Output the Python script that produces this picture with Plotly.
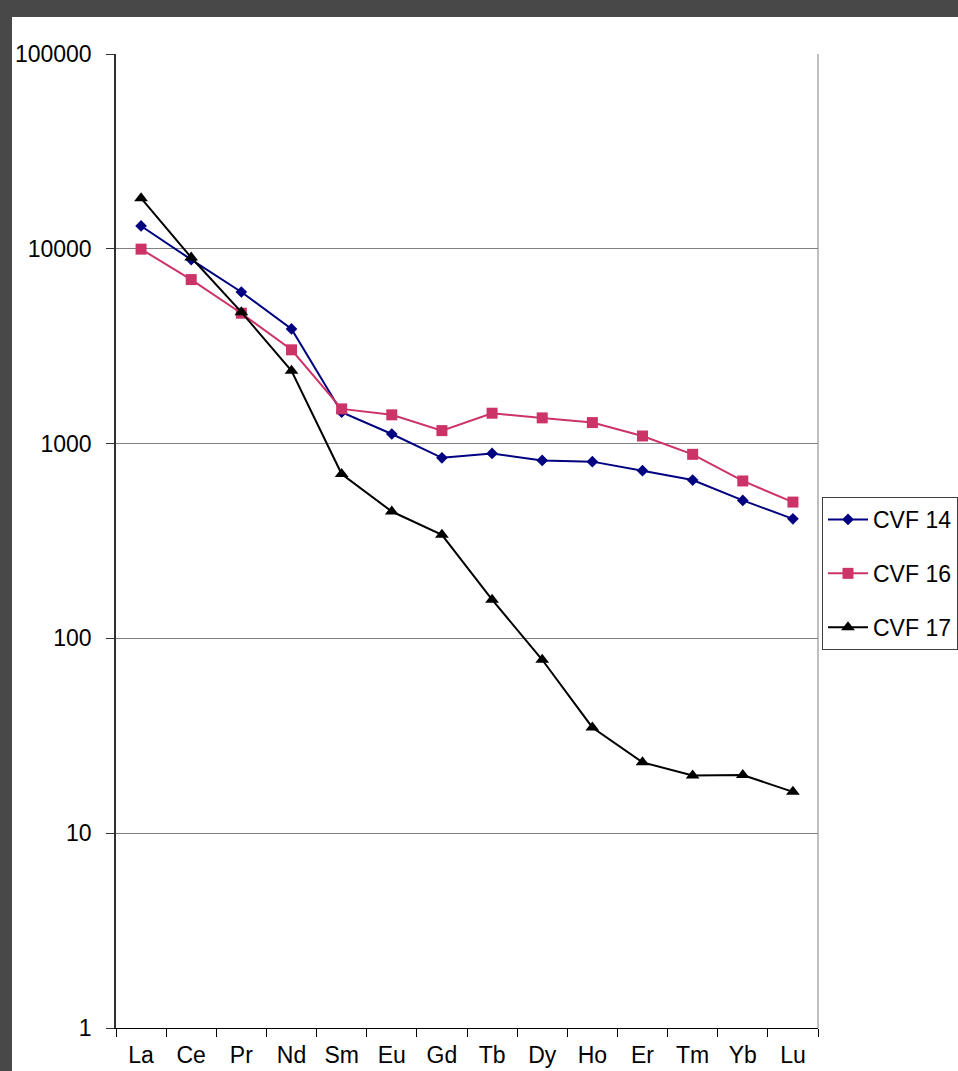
import plotly.graph_objects as go

elements = ["La", "Ce", "Pr", "Nd", "Sm", "Eu", "Gd", "Tb", "Dy", "Ho", "Er", "Tm", "Yb", "Lu"]
cvf14 = [13100, 8800, 6000, 3880, 1450, 1120, 845, 890, 820, 808, 726, 650, 511, 411]
cvf16 = [9960, 6950, 4670, 3030, 1507, 1405, 1166, 1432, 1355, 1282, 1094, 881, 643, 501]
cvf17 = [18200, 9020, 4730, 2365, 698, 448, 340, 158, 77.7, 34.9, 23.1, 19.8, 19.9, 16.3]
ytick_vals = [1, 10, 100, 1000, 10000, 100000]
ytick_text = ["1", "10", "100", "1000", "10000", "100000"]

FONT = "Arial, Liberation Sans, sans-serif"

fig = go.Figure()
fig.add_trace(go.Scatter(x=elements, y=cvf14, name="CVF 14", mode="lines+markers",
                         line=dict(color="#000080", width=2),
                         marker=dict(symbol="diamond", size=9, color="#000080"),
                         legendgroup="a"))
fig.add_trace(go.Scatter(x=elements, y=cvf16, name="CVF 16", mode="lines+markers",
                         line=dict(color="#CC3366", width=2),
                         marker=dict(symbol="square", size=11, color="#CC3366"),
                         legendgroup="b"))
fig.add_trace(go.Scatter(x=elements, y=cvf17, name="CVF 17", mode="lines+markers",
                         line=dict(color="#000000", width=2),
                         marker=dict(symbol="triangle-up", size=12, color="#000000"),
                         legendgroup="c"))

L, R, T, B = 116, 140, 54, 43
W, H = 958, 1071
pw, ph = W - L - R, H - T - B

def px_x(p):
    return (p - L) / pw

def px_y(p):
    return (H - B - p) / ph

fig.update_layout(
    width=W, height=H,
    margin=dict(l=L, r=R, t=T, b=B, autoexpand=False),
    paper_bgcolor="white", plot_bgcolor="white",
    font=dict(family=FONT, size=23, color="#000000"),
    showlegend=True,
    legend=dict(x=px_x(822), y=px_y(497), xanchor="left", yanchor="top",
                bordercolor="#404040", borderwidth=1, bgcolor="white",
                font=dict(family=FONT, size=23), tracegroupgap=21,
                itemwidth=40),
    xaxis=dict(type="category", range=[-0.5, 13.5], showgrid=False,
               showline=True, linecolor="#000000", linewidth=1,
               ticks="outside", ticklen=8, tickcolor="#000000",
               tickson="boundaries", ticklabelstandoff=6,
               tickfont=dict(family=FONT, size=23)),
    yaxis=dict(type="log", range=[0, 5], tickvals=ytick_vals, ticktext=ytick_text,
               showgrid=True, gridcolor="#808080", gridwidth=1,
               showline=True, linecolor="#303030", linewidth=1.5,
               ticks="outside", ticklen=8, tickcolor="#303030",
               ticklabelstandoff=10, zeroline=False,
               tickfont=dict(family=FONT, size=23)),
    shapes=[
        dict(type="rect", xref="paper", yref="paper", x0=px_x(0), x1=px_x(W),
             y0=px_y(17), y1=px_y(0), fillcolor="#484848", line=dict(width=0)),
        dict(type="rect", xref="paper", yref="paper", x0=px_x(0), x1=px_x(12),
             y0=px_y(H), y1=px_y(0), fillcolor="#484848", line=dict(width=0)),
        dict(type="line", xref="paper", yref="paper", x0=1, x1=1, y0=0, y1=1,
             line=dict(color="#808080", width=1)),
    ],
)

fig.write_html("out.html", config={"displayModeBar": False},
               post_script="document.body.style.margin='0';document.body.style.overflow='hidden';")
